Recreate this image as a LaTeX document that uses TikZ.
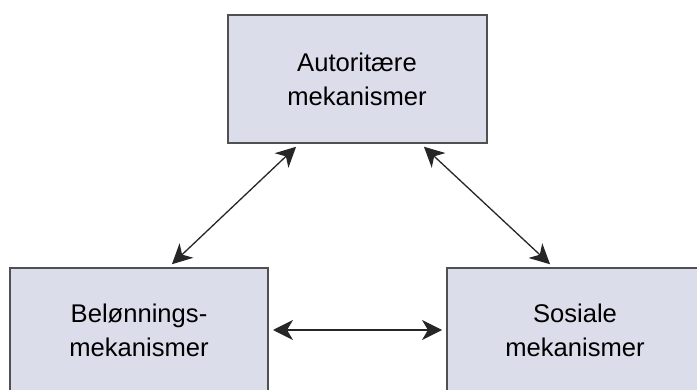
\documentclass[tikz,border=0pt]{standalone}
\usepackage{fontspec}
\setmainfont{Liberation Sans}
\usetikzlibrary{arrows.meta,calc}
\definecolor{boxfill}{HTML}{DCDDEA}
\definecolor{boxline}{HTML}{505050}
\tikzset{
  mech/.style={draw=boxline,line width=1pt,fill=boxfill,align=center,
    font=\fontsize{12.8}{17}\selectfont,inner sep=0pt},
  link/.style={{Stealth[length=10pt,width=10pt,inset=3pt]}-{Stealth[length=10pt,width=10pt,inset=3pt]},
    line width=0.65pt,draw=black!85,shorten <=2pt,shorten >=2pt}
}
\begin{document}
\begin{tikzpicture}[x=0.5pt,y=-0.5pt]
\clip (0,0) rectangle (697,390);
\node[mech,minimum width=129.5pt,minimum height=64pt] (aut) at (357,79) {Autoritære\\mekanismer};
\node[mech,minimum width=129pt,minimum height=62pt] (bel) at (139,330) {Belønnings-\\mekanismer};
\node[mech,minimum width=128pt,minimum height=62pt] (sos) at (575,330) {Sosiale\\mekanismer};
\draw[link] ($(aut.south)+(-58,0)$) -- ($(bel.north)+(30,0)$);
\draw[link] ($(aut.south)+(64,0)$) -- ($(sos.north)+(-22,0)$);
\draw[link] (bel) -- (sos);
\end{tikzpicture}
\end{document}
